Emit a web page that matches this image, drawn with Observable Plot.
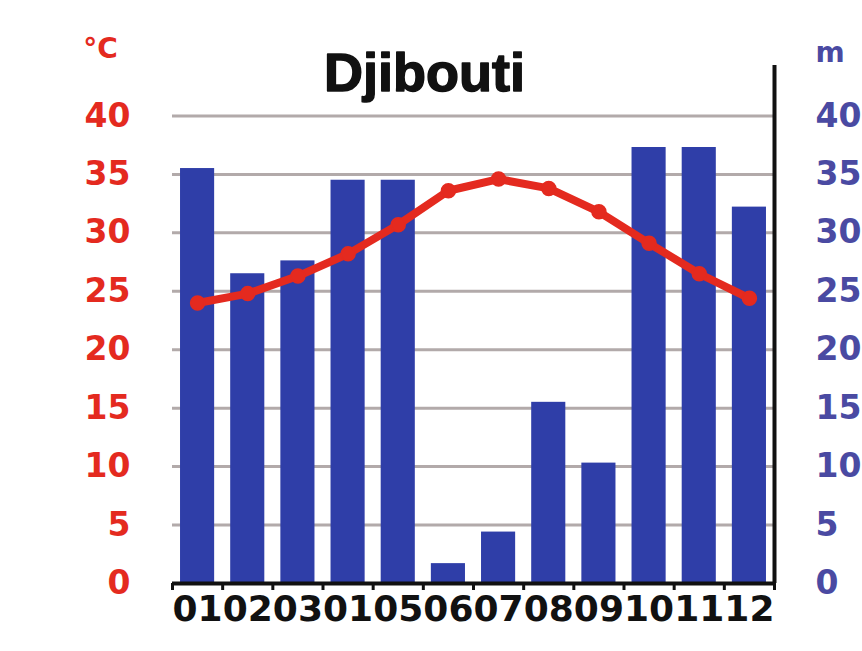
<!DOCTYPE html>
<html>
<head>
<meta charset="utf-8">
<script src="https://cdn.jsdelivr.net/npm/d3@7"></script>
<script src="https://cdn.jsdelivr.net/npm/@observablehq/plot@0.6"></script>
<style>
  html, body { margin: 0; padding: 0; background: #fff; overflow: hidden; }
  #chart svg { display: block; overflow: hidden; }
</style>
</head>
<body>
<div id="chart"></div>
<script>
const title = "Djibouti";
const months = [1, 2, 3, 4, 5, 6, 7, 8, 9, 10, 11, 12];
const monthLabels = ["01", "02", "03", "01", "05", "06", "07", "08", "09", "10", "11", "12"];
const precipitation = [35.5, 26.5, 27.6, 34.5, 34.5, 1.7, 4.4, 15.5, 10.3, 37.3, 37.3, 32.2];
const temperature = [24.0, 24.8, 26.3, 28.2, 30.7, 33.6, 34.6, 33.8, 31.8, 29.1, 26.5, 24.4];
const yTicks = [0, 5, 10, 15, 20, 25, 30, 35, 40];
const gridValues = [5, 10, 15, 20, 25, 30, 35, 40];
const leftUnit = "°C";
const rightUnit = "m";

const data = months.map((m, i) => ({m, p: precipitation[i], t: temperature[i]}));
const bounds = d3.range(0.5, 13, 1);
const half = 0.34;

const red = "#e42a1f";
const blue = "#2f3ea8";
const blueText = "#4a4aa2";
const numFont = "DejaVu Sans";

const chart = Plot.plot({
  width: 862,
  height: 651,
  marginLeft: 172,
  marginRight: 88,
  marginTop: 57,
  marginBottom: 68,
  style: {background: "#fff", fontFamily: numFont},
  x: {type: "linear", domain: [0.5, 12.5]},
  y: {domain: [0, 45]},
  marks: [
    Plot.ruleY(gridValues, {stroke: "#b2aaaa", strokeWidth: 3}),
    Plot.rectY(data, {x1: d => d.m - half, x2: d => d.m + half, y1: 0, y2: "p", fill: blue}),
    Plot.line(data, {x: "m", y: "t", stroke: red, strokeWidth: 8, curve: "linear"}),
    Plot.dot(data, {x: "m", y: "t", r: 7, fill: red, stroke: red}),
    Plot.ruleY([0], {stroke: "#111", strokeWidth: 4}),
    Plot.ruleX([12.5], {y1: 0, y2: 45, stroke: "#111", strokeWidth: 4, insetBottom: -8}),
    Plot.axisY(yTicks, {anchor: "left", tickSize: 0, tickPadding: 42, fill: red, fontSize: 33, fontWeight: "bold", label: null}),
    Plot.axisY(yTicks, {anchor: "right", tickSize: 0, tickPadding: 41, fill: blueText, fontSize: 33, fontWeight: "bold", label: null}),
    Plot.axisX(bounds, {anchor: "bottom", tickSize: 7, strokeWidth: 3, stroke: "#111", tickFormat: () => "", label: null}),
    Plot.axisX(months, {anchor: "bottom", tickSize: 0, tickPadding: 12, tickFormat: (d) => monthLabels[d - 1], fill: "#111", fontSize: 36, fontWeight: "bold", label: null}),
    Plot.text([title], {frameAnchor: "top", dx: -49, dy: 33, lineAnchor: "bottom", text: d => d, fontSize: 54, fontWeight: "bold", fontFamily: "Liberation Sans", fill: "#111", stroke: "#111", strokeWidth: 1.5}),
    Plot.text([leftUnit], {frameAnchor: "top-left", dx: -72, dy: -8, lineAnchor: "middle", textAnchor: "middle", text: d => d, fontSize: 28, fontWeight: "bold", fill: red}),
    Plot.text([rightUnit], {frameAnchor: "top-right", dx: 41, dy: -4, lineAnchor: "middle", textAnchor: "start", text: d => d, fontSize: 28, fontWeight: "bold", fill: blueText})
  ]
});
document.getElementById("chart").appendChild(chart);
</script>
</body>
</html>
